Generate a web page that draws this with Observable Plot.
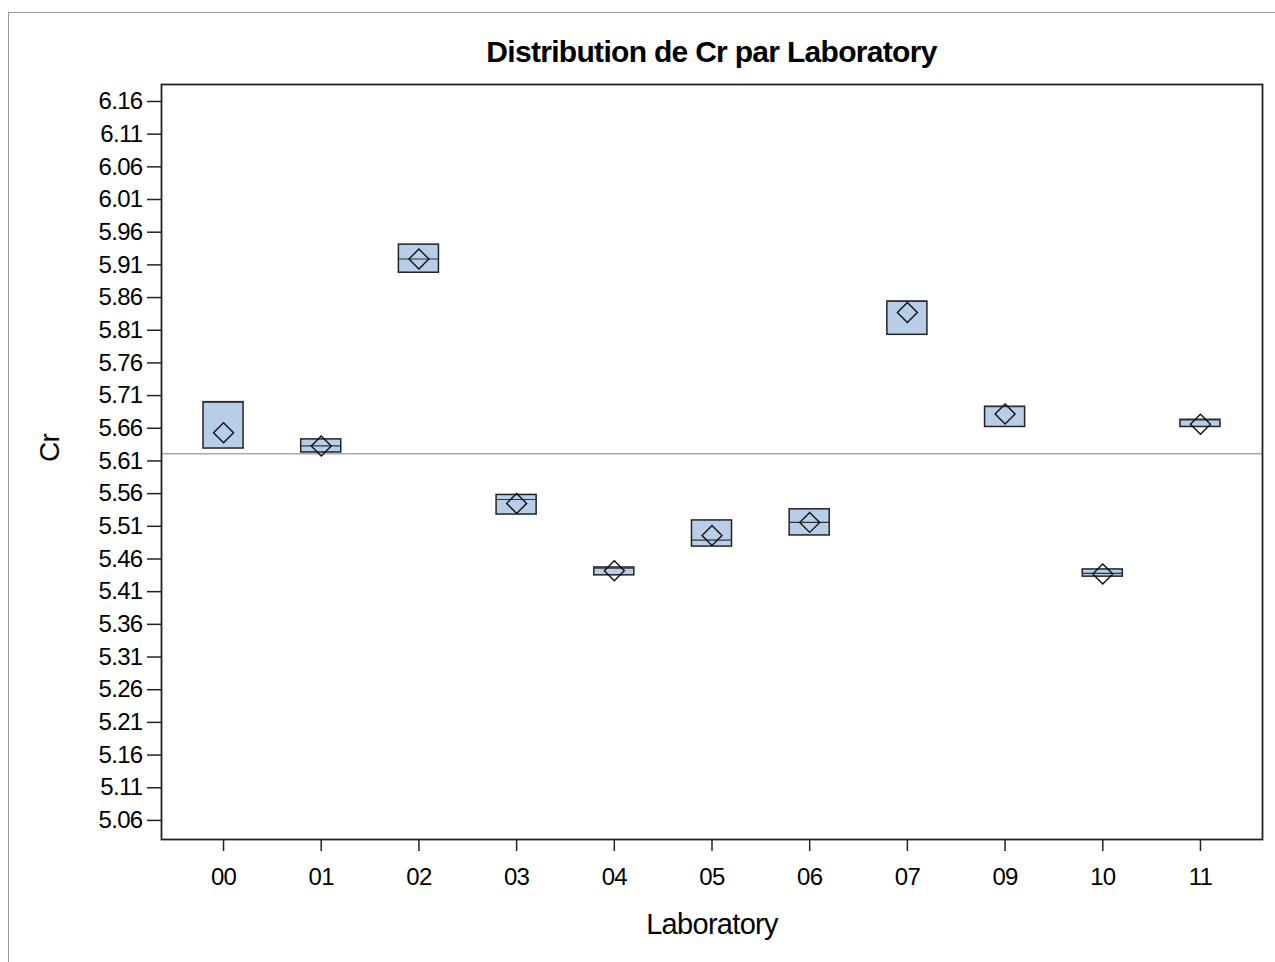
<!DOCTYPE html>
<html>
<head>
<meta charset="utf-8">
<script src="https://cdn.jsdelivr.net/npm/d3@7"></script>
<script src="https://cdn.jsdelivr.net/npm/@observablehq/plot@0.6"></script>
<style>
  html, body { margin: 0; padding: 0; background: #fff; }
  #wrap { position: relative; width: 1275px; height: 962px; overflow: hidden; font-family: "Liberation Sans", Arial, sans-serif; }
  #borderTop { position: absolute; left: 8px; top: 12px; width: 1275px; height: 0; border-top: 1.5px solid #999; }
  #borderLeft { position: absolute; left: 8px; top: 12px; width: 0; height: 962px; border-left: 1.5px solid #999; }
  #title { position: absolute; left: 161px; top: 35px; width: 1101px; text-align: center; font-weight: bold; font-size: 30px; letter-spacing: -0.7px; color: #000; }
  #chart { position: absolute; left: 0; top: 0; }
  #chart svg text { letter-spacing: -0.7px; }
</style>
</head>
<body>
<div id="wrap">
  <div id="borderTop"></div>
  <div id="borderLeft"></div>
  <div id="chart"></div>
  <div id="title">Distribution de Cr par Laboratory</div>
</div>
<script>
const labs   = ["00","01","02","03","04","05","06","07","09","10","11"];
const q3     = [5.700, 5.643, 5.941, 5.558, 5.447, 5.519, 5.536, 5.854, 5.693, 5.444, 5.673];
const q1     = [5.629, 5.623, 5.898, 5.528, 5.435, 5.479, 5.496, 5.803, 5.662, 5.433, 5.662];
const medians= [5.700, 5.633, 5.919, 5.551, 5.446, 5.489, 5.516, 5.854, 5.693, 5.438, 5.673];
const means  = [5.653, 5.633, 5.919, 5.545, 5.442, 5.496, 5.516, 5.837, 5.682, 5.437, 5.666];
const refLine = 5.621;
const yTicks = [5.06,5.11,5.16,5.21,5.26,5.31,5.36,5.41,5.46,5.51,5.56,5.61,5.66,5.71,5.76,5.81,5.86,5.91,5.96,6.01,6.06,6.11,6.16];

const data = labs.map((lab, i) => ({lab, q1: q1[i], q3: q3[i], median: medians[i], mean: means[i]}));

const chart = Plot.plot({
  width: 1275,
  height: 962,
  marginTop: 84,
  marginLeft: 161,
  marginRight: 13,
  marginBottom: 123,
  style: {fontFamily: "'Liberation Sans', Arial, sans-serif", fontSize: "24px", color: "#000", background: "transparent"},
  x: {type: "band", domain: labs, paddingInner: 0.59, paddingOuter: 0.43, align: 0.5, round: false},
  y: {domain: [5.0308, 6.186]},
  marks: [
    Plot.ruleY([refLine], {stroke: "#aaa", strokeWidth: 1.5}),
    Plot.barY(data, {x: "lab", y1: "q1", y2: "q3", fill: "#b8cee8", stroke: "#222", strokeWidth: 1.5}),
    Plot.tickY(data, {x: "lab", y: "median", stroke: "#333", strokeWidth: 1.2}),
    Plot.dot(data, {x: "lab", y: "mean", symbol: "diamond2", r: 9, stroke: "#111", fill: "none", strokeWidth: 1.4}),
    Plot.frame({stroke: "#222", strokeWidth: 1.8}),
    Plot.axisY({ticks: yTicks, tickFormat: d => d.toFixed(2), tickSize: 14, tickPadding: 5, stroke: "#222", strokeWidth: 1.5, label: null, fontSize: 24}),
    Plot.axisX({tickSize: 12, tickPadding: 16, stroke: "#222", strokeWidth: 1.5, label: null, fontSize: 24}),
    Plot.text(["Cr"], {frameAnchor: "left", dx: -111, rotate: -90, fontSize: 28, fill: "#000"}),
    Plot.text(["Laboratory"], {frameAnchor: "bottom", dy: 94, fontSize: 29, fill: "#000"})
  ]
});
document.getElementById("chart").appendChild(chart);
</script>
</body>
</html>
